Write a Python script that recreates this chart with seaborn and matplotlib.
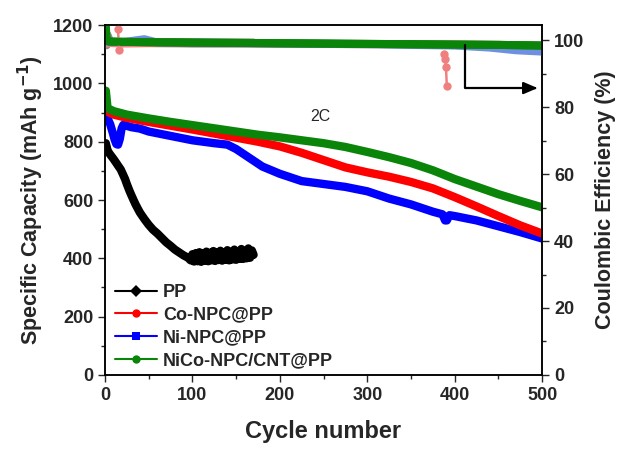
import matplotlib
matplotlib.use("Agg")
import matplotlib.pyplot as plt
from matplotlib.lines import Line2D
from matplotlib.ticker import MultipleLocator
import seaborn as sns
import pandas as pd

# ---- specific capacity (mAh g-1) ----
cyc_pp = [1, 3, 5, 8, 10, 13, 15, 18, 20, 23, 25, 28, 30, 33, 35, 38, 40, 45, 50, 55,
          60, 65, 70, 75, 80, 85, 90, 95, 98, 100, 102, 104, 106, 108, 110, 112, 114, 116,
          118, 120, 122, 124, 126, 128, 130, 132, 134, 136, 138, 140, 142, 144, 146, 148,
          150, 152, 154, 156, 158, 160, 162, 164, 166, 168, 170]
cap_pp = [795, 770, 760, 748, 740, 727, 718, 705, 692, 672, 655, 632, 618, 598, 585, 568,
          557, 535, 515, 498, 485, 470, 455, 443, 430, 420, 410, 402, 393, 414, 389, 418,
          390, 421, 388, 417, 392, 423, 390, 419, 393, 425, 391, 420, 394, 426, 392, 421,
          395, 428, 393, 422, 396, 430, 395, 424, 398, 432, 398, 425, 400, 434, 402, 427,
          412]

cyc_co = [1, 5, 10, 25, 50, 75, 100, 125, 150, 175, 200, 225, 250, 275, 300, 325, 350,
          375, 400, 425, 450, 475, 500]
cap_co = [910, 900, 893, 882, 868, 855, 842, 828, 814, 800, 784, 762, 737, 712, 695, 680,
          662, 640, 610, 578, 545, 513, 485]

cyc_ni = [1, 3, 6, 9, 11, 13, 15, 17, 19, 21, 30, 40, 50, 75, 100, 125, 140, 150, 160,
          170, 180, 200, 225, 250, 275, 300, 325, 350, 375, 386, 389, 391, 394, 400, 425,
          450, 475, 500]
cap_ni = [895, 880, 860, 830, 808, 792, 790, 810, 845, 858, 850, 845, 835, 820, 805, 795,
          790, 775, 755, 735, 715, 690, 665, 655, 645, 630, 605, 585, 560, 551, 530, 530,
          548, 545, 530, 510, 490, 468]

cyc_nico = [1, 3, 10, 25, 50, 75, 100, 125, 150, 175, 200, 225, 250, 275, 300, 325, 350,
            375, 400, 425, 450, 475, 500]
cap_nico = [975, 915, 905, 893, 880, 868, 857, 846, 835, 824, 815, 805, 795, 782, 765, 747,
            727, 702, 672, 646, 620, 597, 575]

# ---- coulombic efficiency (%) ----
ce_cyc_pp = [1, 2, 3, 6, 40, 80, 120, 170]
ce_pp = [104.0, 98.5, 101.5, 99.5, 99.2, 99.4, 99.3, 99.3]

ce_cyc_co = [1, 5, 10, 20, 50, 100, 150, 200, 250, 300, 350, 385, 395, 450, 500]
ce_co = [99.0, 99.2, 99.1, 99.0, 99.1, 99.0, 99.0, 98.9, 98.9, 98.8, 98.8, 98.7, 98.7, 98.6, 98.4]
ce_cyc_co_dip1 = [15, 16]
ce_co_dip1 = [103.2, 97.0]
ce_cyc_co_dip2 = [388, 389, 390, 391]
ce_co_dip2 = [96.0, 94.5, 92.0, 86.3]

ce_cyc_ni = [1, 20, 45, 60, 100, 200, 300, 400, 440, 470, 500]
ce_ni = [99.5, 99.4, 100.3, 99.3, 99.1, 99.0, 98.8, 98.4, 97.8, 97.0, 96.6]

ce_cyc_nico = [1, 2, 5, 25, 50, 100, 150, 200, 250, 300, 350, 400, 450, 500]
ce_nico = [104.0, 99.8, 99.6, 99.5, 99.4, 99.3, 99.2, 99.1, 99.0, 98.9, 98.8, 98.7, 98.6, 98.4]

labels = ["PP", "Co-NPC@PP", "Ni-NPC@PP", "NiCo-NPC/CNT@PP"]
colors = ["#000000", "#ff0000", "#0000ff", "#0a850a"]
ce_colors = ["#8c8c8c", "#f08080", "#6f8fe0", "#0a850a"]
markers = ["D", "o", "s", "o"]

sns.set_theme(style="ticks")
plt.rcParams["font.family"] = ["Liberation Sans", "DejaVu Sans"]
plt.rcParams["font.weight"] = "bold"
plt.rcParams["axes.labelweight"] = "bold"

fig = plt.figure(figsize=(6.21, 4.49), dpi=100)
ax = fig.add_axes([0.169, 0.165, 0.704, 0.779])
ax2 = ax.twinx()

cap_frames = [
    pd.DataFrame({"cycle": c, "value": v, "series": lab})
    for c, v, lab in zip([cyc_pp, cyc_co, cyc_ni, cyc_nico],
                         [cap_pp, cap_co, cap_ni, cap_nico], labels)
]
# drawn back to front: PP, Ni, Co, NiCo
for idx in [0, 2, 1, 3]:
    sns.lineplot(data=cap_frames[idx], x="cycle", y="value", ax=ax,
                 color=colors[idx], linewidth=6.0, legend=False,
                 solid_capstyle="round", solid_joinstyle="round")

ce_sets = [(ce_cyc_pp, ce_pp, 0), (ce_cyc_co, ce_co, 1), (ce_cyc_ni, ce_ni, 2),
           (ce_cyc_nico, ce_nico, 3)]
for c, v, idx in ce_sets:
    sns.lineplot(x=c, y=v, ax=ax2, color=ce_colors[idx], linewidth=5.8, legend=False,
                 solid_capstyle="round", solid_joinstyle="round")
for c, v in [(ce_cyc_co_dip1, ce_co_dip1), (ce_cyc_co_dip2, ce_co_dip2)]:
    sns.lineplot(x=c, y=v, ax=ax2, color=ce_colors[1], linewidth=1.8, marker="o",
                 markersize=6, markeredgewidth=0, legend=False)
# green efficiency band drawn again on top
sns.lineplot(x=ce_cyc_nico[1:], y=ce_nico[1:], ax=ax2, color=ce_colors[3], linewidth=5.8,
             legend=False, solid_capstyle="round")

# arrow pointing to the efficiency axis
ax2.plot([412, 412, 488], [98.5, 85.7, 85.7], color="black", lw=1.6)
ax2.annotate("", xy=(498, 85.7), xytext=(486, 85.7),
             arrowprops=dict(arrowstyle="-|>,head_length=0.7,head_width=0.3",
                             color="black", lw=1.6))

ax.text(246, 885, "2C", fontsize=11.5, fontweight="normal", ha="center", va="center")

ax.set_xlim(0, 500)
ax.set_ylim(0, 1200)
ax2.set_ylim(0, 104.5)
ax.xaxis.set_major_locator(MultipleLocator(100))
ax.xaxis.set_minor_locator(MultipleLocator(50))
ax.yaxis.set_major_locator(MultipleLocator(200))
ax.yaxis.set_minor_locator(MultipleLocator(100))
ax2.yaxis.set_major_locator(MultipleLocator(20))
ax2.yaxis.set_minor_locator(MultipleLocator(10))

for a in (ax, ax2):
    a.tick_params(which="major", direction="out", length=5, width=1.0, labelsize=13)
    a.tick_params(which="minor", direction="out", length=3, width=1.0)
    for s in a.spines.values():
        s.set_linewidth(1.1)
        s.set_color("black")
    for lab in a.get_xticklabels() + a.get_yticklabels():
        lab.set_fontweight("bold")
ax.tick_params(top=False, which="both")
ax2.tick_params(top=False, which="both")

ax.set_xlabel("Cycle number", fontsize=17, labelpad=12)
ax.set_ylabel("Specific Capacity (mAh g$^{\\mathbf{-1}}$)", fontsize=15.5, labelpad=5)
ax2.set_ylabel("Coulombic Efficiency (%)", fontsize=15.5, labelpad=8)

handles = [Line2D([0], [0], color=colors[i], lw=1.5, marker=markers[i], markersize=6,
                  markeredgewidth=0) for i in range(4)]
ax.legend(handles, labels, loc="lower left", bbox_to_anchor=(-0.005, -0.02),
          frameon=False, handlelength=2.3, handletextpad=0.35,
          labelspacing=0.32, borderaxespad=0.3, prop={"weight": "bold", "size": 13})

fig.savefig("out.png", dpi=100)
